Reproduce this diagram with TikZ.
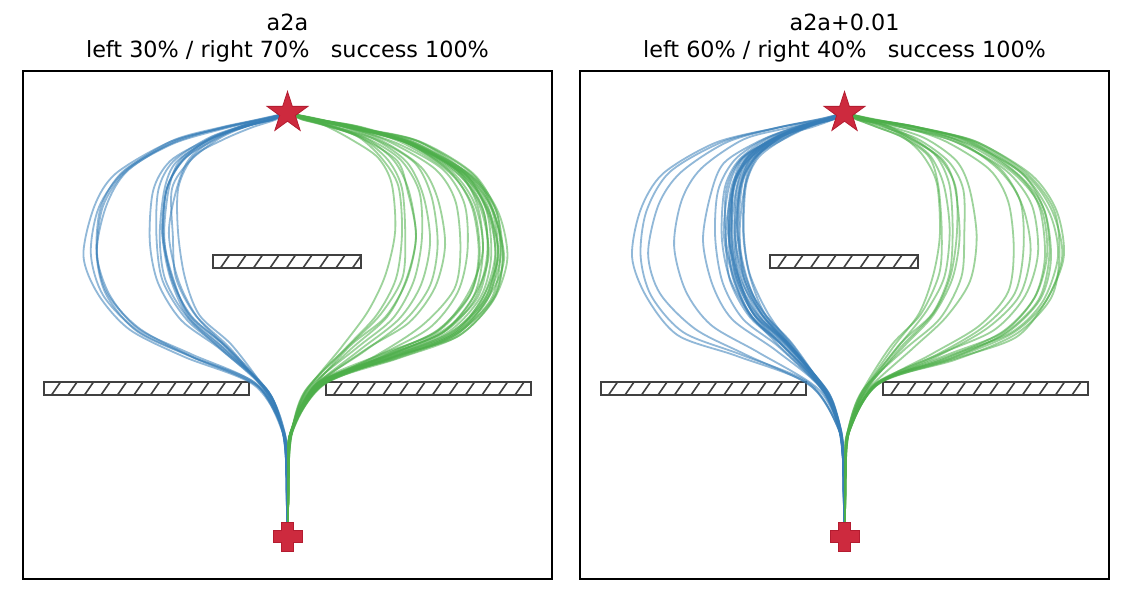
\documentclass[tikz,border=0pt]{standalone}
\usepackage{fontspec}
\setmainfont{DejaVu Sans}
\usetikzlibrary{shapes.geometric}
\definecolor{tblue}{RGB}{55,126,184}
\definecolor{tgreen}{RGB}{77,175,74}
\definecolor{tred}{RGB}{205,42,62}
\definecolor{tredd}{RGB}{180,28,48}
\definecolor{hgray}{RGB}{64,64,64}
\tikzset{
 bluetraj/.style={tblue, opacity=0.55, line width=1.8pt, line join=round, line cap=round},
 greentraj/.style={tgreen, opacity=0.55, line width=1.8pt, line join=round, line cap=round},
 axframe/.style={black, line width=1.4pt},
 barline/.style={hgray, line width=1.5pt},
 hatchline/.style={hgray, line width=1.6pt},
 goalmark/.style={star, star points=5, star point ratio=2.62, minimum size=43pt, inner sep=0pt, fill=tred, draw=tredd, line width=0.8pt},
 crossmark/.style={fill=tred, draw=tredd, line width=0.8pt},
 titletext/.style={font=\fontsize{22.3}{26}\selectfont, anchor=base, inner sep=0pt},
}
\newcommand\traj[4]{%
  \pgfmathsetmacro\tjs{max(0,min(1,(215-#3)/110))}%
  \pgfmathsetmacro\tjm{#3*(1+0.02*rand)}%
  \draw[#1] plot[smooth,tension=0.5] coordinates {
   ({#4+(#2)*0.5}, 528)
   ({#4+(#2)*1}, 470)
   ({#4+(#2)*(4+rand)}, 432)
   ({#4+(#2)*(0.16*\tjm+2*rand)}, {383+11*\tjs+2*rand})
   ({#4+(#2)*(0.5*\tjm+2.5*rand)}, {358-12*\tjs+2*rand})
   ({#4+(#2)*(0.78*\tjm+2.5*rand)}, {335-22*\tjs+2*rand})
   ({#4+(#2)*(0.94*\tjm+2.5*rand)}, {300-25*\tjs+2*rand})
   ({#4+(#2)*(\tjm+2.5*rand)}, {258-26*\tjs+2*rand})
   ({#4+(#2)*(0.965*\tjm+2.5*rand)}, {212-27*\tjs+2*rand})
   ({#4+(#2)*(0.85*\tjm+2.5*rand)}, {175-18*\tjs+2*rand})
   ({#4+(#2)*(0.6*\tjm+2.5*rand)}, {143-5*\tjs+2*rand})
   ({#4+(#2)*(0.34*\tjm+2*rand)}, {128-2*\tjs+1.5*rand})
   ({#4+(#2)*(0.12*\tjm+1.5*rand)}, {119+rand})
   ({#4+(#2)*4}, 114)
  };
}
\newcommand\hatchbar[4]{%
 \begin{scope}
  \clip (#1,#2) rectangle (#3,#4);
  \foreach \k in {0,...,14} {
    \pgfmathsetmacro\hx{#1-9+16.5*\k}
    \draw[hatchline] (\hx,#4) -- (\hx+9,#2);
  }
 \end{scope}
 \draw[barline] (#1,#2) rectangle (#3,#4);
}
\newcommand\crosspath[1]{%
 \draw[crossmark] (#1) ++(-5.8,-14.5) -- ++(11.6,0) -- ++(0,8.7) -- ++(8.7,0) -- ++(0,11.6) -- ++(-8.7,0) -- ++(0,8.7) -- ++(-11.6,0) -- ++(0,-8.7) -- ++(-8.7,0) -- ++(0,-11.6) -- ++(8.7,0) -- cycle;
}
\begin{document}
\begin{tikzpicture}[x=1pt,y=-1pt]
\useasboundingbox[fill=white] (0,0) rectangle (1126,614);
\pgfmathsetseed{7}
% titles
\node[titletext] (t1a) at (287.5,30) {a2a};
\node[titletext] (t1b) at (287.5,57) {left 30\% / right 70\%\ \ \ success 100\%};
\node[titletext] (t2a) at (844.5,30) {a2a+0.01};
\node[titletext] (t2b) at (844.5,57) {left 60\% / right 40\%\ \ \ success 100\%};
% obstacles
\hatchbar{213}{255}{361}{268}
\hatchbar{44}{382}{249}{395}
\hatchbar{326}{382}{531}{395}
\hatchbar{770}{255}{918}{268}
\hatchbar{601}{382}{806}{395}
\hatchbar{883}{382}{1088}{395}
% left panel trajectories
\foreach \mm in {189,192,194,196,198,110,116,119,121,123,124,126,128,131,135}
  {\traj{bluetraj}{-1}{\mm}{287.5}}
\foreach \mm in {105,113,118,125,130,136,141,148,156,173,185,190,193,196,198,200,202,204,206,207,208,209,210,211,212,213,214,215,216,218}
  {\traj{greentraj}{1}{\mm}{287.5}}
% right panel trajectories
\foreach \mm in {211,204,191,169,144,131,100,102,104,105,106,107,108,109,110,111,112,113,114,115,116,117,118,119,121,123}
  {\traj{bluetraj}{-1}{\mm}{844.5}}
\foreach \mm in {95,100,104,108,112,116,122,129,172,178,185,195,200,204,207,210,213,215,217,219}
  {\traj{greentraj}{1}{\mm}{844.5}}
% markers
\coordinate (c1) at (287.5,536.5);
\coordinate (c2) at (844.5,536.5);
\crosspath{c1}
\crosspath{c2}
\node[goalmark] (g1) at (287.5,113) {};
\node[goalmark] (g2) at (844.5,113) {};
% frames
\draw[axframe] (23,71) rectangle (552,579);
\draw[axframe] (580,71) rectangle (1109,579);
\end{tikzpicture}
\end{document}
